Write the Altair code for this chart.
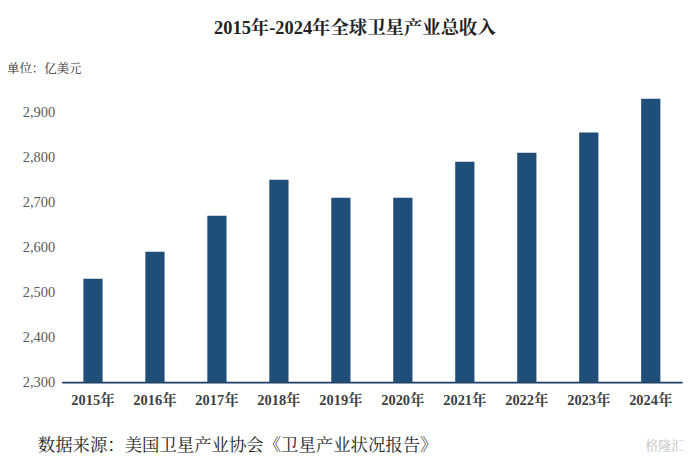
import altair as alt
import pandas as pd

years = ["2015年", "2016年", "2017年", "2018年", "2019年", "2020年", "2021年", "2022年", "2023年", "2024年"]
revenue = [2530, 2590, 2670, 2750, 2710, 2710, 2790, 2810, 2855, 2930]
y_ticks = [2300, 2400, 2500, 2600, 2700, 2800, 2900]

title_text = "2015年-2024年全球卫星产业总收入"
unit_text = "单位：亿美元"
source_text = "数据来源：美国卫星产业协会《卫星产业状况报告》"
mark_text = "格隆汇"

df = pd.DataFrame({"year": years, "revenue": revenue})

serif = "Times New Roman, Liberation Serif, Noto Serif CJK SC, Noto Sans CJK SC, serif"

base = alt.Chart(df)

bars = base.mark_bar(color="#1f4e79").encode(
    x=alt.X("year:N", sort=years, title=None,
            scale=alt.Scale(paddingInner=0.69, paddingOuter=0.35),
            axis=alt.Axis(labelAngle=0, labelFont=serif, labelFontSize=14.5, labelFontWeight="bold",
                          labelColor="#404040", labelPadding=12, ticks=False,
                          domainColor="#1f3f66", domainWidth=2)),
    y=alt.Y("revenue:Q", title=None,
            scale=alt.Scale(domain=[2300, 2950], zero=False, nice=False),
            axis=alt.Axis(values=y_ticks, format=",d", grid=False, domain=False, ticks=False,
                          labelFont=serif, labelFontSize=14.5, labelColor="#595959", labelPadding=7)),
    y2=alt.datum(2300),
)

def label(text, x, y, size, weight="normal", color="#222222", align="left"):
    return alt.Chart(pd.DataFrame({"t": [text]})).mark_text(
        font=serif, fontSize=size, fontWeight=weight, color=color, align=align, baseline="middle"
    ).encode(text="t:N", x=alt.value(x), y=alt.value(y))

chart = alt.layer(
    bars,
    label(title_text, 295, -62, 18.5, "bold", "#222222", "center"),
    label(unit_text, -55, -21, 12.5, "normal", "#333333"),
    label(source_text, -24, 358, 17.5, "normal", "#222222"),
    label(mark_text, 626, 358, 13, "normal", "#c0c0c0", "right"),
).properties(
    width=624, height=294,
    autosize=alt.AutoSizeParams(type="none"),
    padding={"left": 54, "top": 81, "right": 10, "bottom": 76},
).configure_view(stroke=None)

chart.save("out.html", embed_options={"renderer": "svg", "actions": False})
